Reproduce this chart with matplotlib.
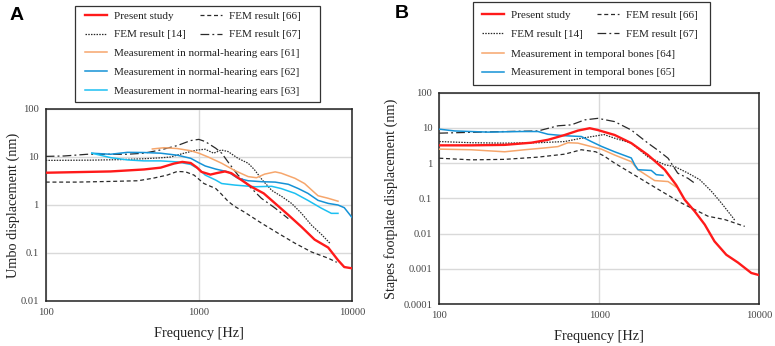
import numpy as np
import matplotlib
matplotlib.use("Agg")
import matplotlib.pyplot as plt
from matplotlib.ticker import FixedLocator, FixedFormatter, NullLocator
from matplotlib.patches import Rectangle

plt.rcParams['font.family'] = ['Liberation Serif', 'DejaVu Serif']

# ---------------- panel A: umbo displacement ----------------
a_red_f = [100, 265, 438, 563, 688, 780, 885, 975, 1040, 1190, 1300, 1480, 1630, 1900, 2200, 2650, 3150, 3840, 4680, 5700, 6990, 8100, 8900, 10000]
a_red_v = [4.7, 5.0, 5.5, 6.0, 7.3, 7.9, 7.5, 6.0, 4.9, 4.3, 4.6, 5.0, 4.6, 3.3, 2.4, 1.75, 1.08, 0.62, 0.35, 0.19, 0.13, 0.071, 0.051, 0.048]

a_fem66_f = [100, 161, 265, 400, 500, 622, 723, 820, 930, 1080, 1290, 1400, 1550, 1700, 2000, 2560, 3280, 4240, 5440, 6990, 7950]
a_fem66_v = [3.0, 3.0, 3.1, 3.2, 3.6, 4.2, 5.0, 4.9, 4.2, 2.8, 2.2, 1.7, 1.2, 0.95, 0.7, 0.42, 0.26, 0.16, 0.105, 0.078, 0.064]

a_fem67_f = [100, 132, 187, 265, 340, 438, 560, 723, 885, 1000, 1100, 1290, 1410, 1550, 1800, 2100, 2560, 3150, 3840]
a_fem67_v = [10.3, 10.5, 11.4, 11.4, 11.4, 12.0, 14.0, 17.3, 22.0, 23.3, 21.0, 15.2, 12.0, 7.9, 4.2, 2.6, 1.38, 0.86, 0.52]

a_fem14_f = [100, 200, 300, 438, 560, 654, 800, 975, 1100, 1250, 1400, 1550, 1800, 2100, 2300, 2600, 3000, 3480, 4030, 4680, 5440, 6350, 7170]
a_fem14_v = [8.5, 8.6, 8.8, 9.2, 9.6, 10.0, 12.0, 14.0, 14.5, 12.0, 14.0, 13.0, 9.4, 7.4, 5.5, 3.3, 2.0, 1.5, 1.08, 0.67, 0.38, 0.24, 0.16]

a_m61_f = [497, 594, 723, 885, 1000, 1150, 1410, 1720, 2100, 2380, 2690, 3150, 3450, 4240, 4900, 5500, 6000, 6990, 8100]
a_m61_v = [14.7, 15.6, 15.0, 13.5, 12.0, 10.0, 7.4, 5.2, 3.9, 3.7, 4.4, 4.9, 4.6, 3.6, 2.8, 2.0, 1.56, 1.38, 1.2]

a_m62_f = [200, 265, 341, 438, 563, 723, 885, 1000, 1100, 1290, 1550, 1800, 2100, 2560, 3150, 3840, 4460, 5150, 6000, 6990, 8100, 8900, 10000]
a_m62_v = [12.0, 11.4, 12.5, 12.4, 12.0, 10.9, 9.4, 7.6, 6.5, 5.6, 4.9, 3.6, 3.2, 3.06, 3.0, 2.7, 2.2, 1.75, 1.25, 1.08, 1.0, 0.88, 0.55]

a_m63_f = [200, 265, 341, 438, 563, 723, 885, 1000, 1100, 1290, 1410, 1720, 2330, 2990, 3450, 4240, 5150, 6300, 7330, 8100]
a_m63_v = [12.0, 9.7, 8.7, 8.3, 8.3, 7.9, 7.0, 5.6, 4.2, 3.3, 2.8, 2.6, 2.4, 2.45, 2.2, 1.75, 1.25, 0.86, 0.67, 0.67]

# ---------------- panel B: stapes footplate displacement ----------------
b_red_f = [100, 158, 256, 376, 478, 608, 736, 871, 979, 1247, 1585, 2014, 2564, 3023, 3420, 3944, 4560, 5250, 6220, 7360, 8910, 10000]
b_red_v = [3.2, 3.2, 3.3, 3.8, 4.6, 6.3, 8.4, 9.8, 8.7, 6.3, 3.7, 1.7, 0.65, 0.24, 0.091, 0.043, 0.018, 0.006, 0.0025, 0.0015, 0.00076, 0.00066]

b_fem66_f = [100, 158, 256, 414, 608, 772, 950, 1070, 1247, 1585, 2014, 2564, 3255, 3944, 4785, 6080, 7020, 8110]
b_fem66_v = [1.38, 1.24, 1.28, 1.48, 1.8, 2.4, 2.1, 1.6, 1.0, 0.52, 0.27, 0.14, 0.074, 0.048, 0.031, 0.025, 0.020, 0.016]

b_fem67_f = [100, 158, 256, 414, 552, 668, 811, 979, 1247, 1585, 2014, 2330, 2690, 3090, 3584, 3944]
b_fem67_v = [7.1, 7.5, 7.9, 8.2, 11.5, 12.2, 16.9, 18.7, 15.1, 8.7, 3.7, 2.3, 1.38, 0.52, 0.37, 0.27]

b_fem14_f = [100, 158, 256, 414, 608, 772, 950, 1070, 1247, 1585, 2014, 2564, 2960, 3584, 4240, 5012, 5790, 6850, 7020]
b_fem14_v = [4.1, 3.8, 3.7, 3.8, 4.1, 5.1, 5.9, 6.5, 5.1, 3.7, 1.5, 0.9, 0.8, 0.52, 0.34, 0.16, 0.074, 0.028, 0.024]

b_m64_f = [100, 158, 256, 342, 455, 552, 636, 736, 891, 1030, 1247, 1585, 1745, 2218, 2690, 3023]
b_m64_v = [2.5, 2.4, 2.1, 2.4, 2.7, 2.95, 3.8, 3.7, 2.95, 2.5, 1.7, 1.1, 0.65, 0.32, 0.30, 0.21]

b_m65_f = [100, 125, 201, 326, 414, 478, 608, 772, 891, 1030, 1247, 1585, 1664, 1745, 2113, 2270, 2500]
b_m65_v = [9.2, 8.2, 7.6, 7.9, 7.9, 6.6, 6.0, 5.7, 4.1, 3.0, 2.1, 1.4, 0.9, 0.65, 0.62, 0.47, 0.45]

a_ticks = [0.01, 0.1, 1, 10, 100]
a_tick_labels = ['0.01', '0.1', '1', '10', '100']
b_ticks = [0.0001, 0.001, 0.01, 0.1, 1, 10, 100]
b_tick_labels = ['0.0001', '0.001', '0.01', '0.1', '1', '10', '100']
x_ticks = [100, 1000, 10000]
x_tick_labels = ['100', '1000', '10000']

RED = '#ff1a1a'
BLK = '#2a2a2a'
ORANGE = '#f6a66c'
BLUE = '#1592d6'
CYAN = '#1cc0f2'
DOT = (0, (1.2, 1.0))
DASH = (0, (3.2, 2.2))
DASHDOT = (0, (7, 2.5, 1.5, 2.5))

W, H = 775, 346
fig = plt.figure(figsize=(W / 100, H / 100), dpi=100)


def px_axes(x0, y0, x1, y1):
    return fig.add_axes([x0 / W, 1 - y1 / H, (x1 - x0) / W, (y1 - y0) / H])


def style(ax, yt, ytl, ymin, ylabel, ypad):
    ax.set_xscale('log')
    ax.set_yscale('log')
    ax.set_xlim(100, 10000)
    ax.set_ylim(ymin, 100)
    ax.xaxis.set_major_locator(FixedLocator(x_ticks))
    ax.xaxis.set_major_formatter(FixedFormatter(x_tick_labels))
    ax.yaxis.set_major_locator(FixedLocator(yt))
    ax.yaxis.set_major_formatter(FixedFormatter(ytl))
    ax.xaxis.set_minor_locator(NullLocator())
    ax.yaxis.set_minor_locator(NullLocator())
    ax.grid(True, color='#d9d9d9', lw=1.0)
    ax.set_axisbelow(True)
    ax.tick_params(length=0, labelsize=7.6, labelcolor='#444444', pad=5)
    for s in ax.spines.values():
        s.set_color('#222222')
        s.set_linewidth(1.1)
    ax.set_xlabel('Frequency [Hz]', fontsize=10.3, color='#222222', labelpad=7)
    ax.set_ylabel(ylabel, fontsize=10.3, color='#222222', labelpad=ypad)


def legend_block(handles, labels, x, y, ncol):
    lg = fig.legend(handles, labels, loc='upper left',
                    bbox_to_anchor=(x / W, 1 - y / H), ncol=ncol,
                    frameon=False, fontsize=8, handlelength=2.0,
                    handletextpad=0.6, labelspacing=0.8, columnspacing=1.3,
                    borderpad=0, borderaxespad=0, labelcolor='#222222')
    return lg


# ---------------- Panel A ----------------
axA = px_axes(45.7, 109, 352, 301)
l_red, = axA.plot(a_red_f, a_red_v, color=RED, lw=1.7, zorder=6)
l_14, = axA.plot(a_fem14_f, a_fem14_v, color=BLK, lw=0.9, ls=DOT, zorder=4)
l_66, = axA.plot(a_fem66_f, a_fem66_v, color=BLK, lw=0.9, ls=DASH, zorder=4)
l_67, = axA.plot(a_fem67_f, a_fem67_v, color=BLK, lw=0.9, ls=DASHDOT, zorder=4)
l_61, = axA.plot(a_m61_f, a_m61_v, color=ORANGE, lw=1.1, zorder=5)
l_62, = axA.plot(a_m62_f, a_m62_v, color=BLUE, lw=1.1, zorder=5)
l_63, = axA.plot(a_m63_f, a_m63_v, color=CYAN, lw=1.1, zorder=5)
style(axA, a_ticks, a_tick_labels, 0.01, 'Umbo displacement (nm)', 0.5)

fig.patches.append(Rectangle((75 / W, 1 - 102 / H), 245 / W, 96 / H,
                             transform=fig.transFigure, fill=False,
                             ec='#333333', lw=0.9))
legend_block([l_red, l_14, l_66, l_67],
             ['Present study', 'FEM result [14]', 'FEM result [66]', 'FEM result [67]'],
             85, 11, 2)
legend_block([l_61, l_62, l_63],
             ['Measurement in normal-hearing ears [61]',
              'Measurement in normal-hearing ears [62]',
              'Measurement in normal-hearing ears [63]'],
             85, 48.5, 1)
fig.text(17 / W, 1 - 16 / H, 'A', family='Liberation Sans', weight='bold',
         fontsize=14, ha='center', va='center')

# ---------------- Panel B ----------------
axB = px_axes(439.3, 92.7, 759.3, 304)
m_red, = axB.plot(b_red_f, b_red_v, color=RED, lw=1.7, zorder=6)
m_14, = axB.plot(b_fem14_f, b_fem14_v, color=BLK, lw=0.9, ls=DOT, zorder=4)
m_66, = axB.plot(b_fem66_f, b_fem66_v, color=BLK, lw=0.9, ls=DASH, zorder=4)
m_67, = axB.plot(b_fem67_f, b_fem67_v, color=BLK, lw=0.9, ls=DASHDOT, zorder=4)
m_64, = axB.plot(b_m64_f, b_m64_v, color=ORANGE, lw=1.1, zorder=5)
m_65, = axB.plot(b_m65_f, b_m65_v, color=BLUE, lw=1.1, zorder=5)
style(axB, b_ticks, b_tick_labels, 0.0001, 'Stapes footplate displacement (nm)', 3.5)

fig.patches.append(Rectangle((472.7 / W, 1 - 85 / H), 237.3 / W, 82.7 / H,
                             transform=fig.transFigure, fill=False,
                             ec='#333333', lw=0.9))
legend_block([m_red, m_14, m_66, m_67],
             ['Present study', 'FEM result [14]', 'FEM result [66]', 'FEM result [67]'],
             482, 10.5, 2)
legend_block([m_64, m_65],
             ['Measurement in temporal bones [64]',
              'Measurement in temporal bones [65]'],
             482, 49, 1)
fig.text(402 / W, 1 - 14 / H, 'B', family='Liberation Sans', weight='bold',
         fontsize=14, ha='center', va='center')

fig.savefig('out.png', dpi=100)
